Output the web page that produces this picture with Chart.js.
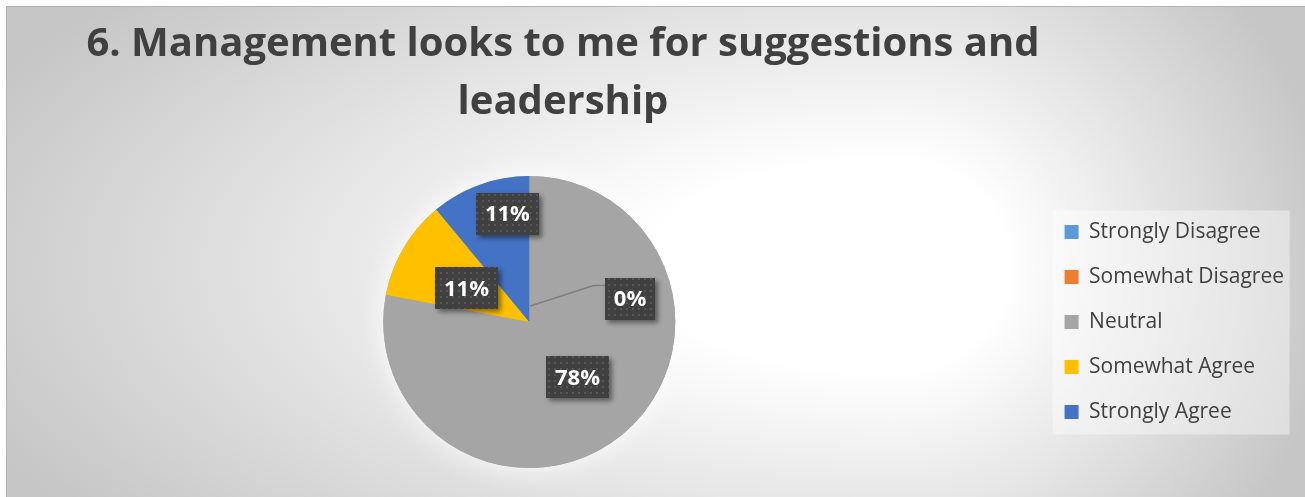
<!DOCTYPE html>
<html>
<head>
<meta charset="utf-8">
<script src="https://cdn.jsdelivr.net/npm/chart.js@4"></script>
<style>
  html, body { margin: 0; padding: 0; background: #fff; }
  #wrap { position: absolute; left: 6px; top: 6px; width: 1299px; height: 491px; }
</style>
</head>
<body>
<div id="wrap"><canvas id="pieChart"></canvas></div>
<script>
const categories = ['Strongly Disagree', 'Somewhat Disagree', 'Neutral', 'Somewhat Agree', 'Strongly Agree'];
const responses = [0, 0, 78, 11, 11];
const percentLabels = ['0%', '0%', '78%', '11%', '11%'];
const sliceColors = ['#5b9bd5', '#ed7d31', '#a5a5a5', '#ffc000', '#4472c4'];
const chartTitle = ['6. Management looks to me for suggestions and', 'leadership'];

// gray backdrop with a soft white spot right of the pie
const backdrop = {
    id: 'backdrop',
    beforeDraw(chart) {
        const { ctx, width, height } = chart;
        const cx = 890, cy = 260;
        const halves = [[0, cx, 1000], [cx, width, 440]];
        halves.forEach(([x0, x1, rx]) => {
            ctx.save();
            ctx.beginPath();
            ctx.rect(x0, 0, x1 - x0, height);
            ctx.clip();
            ctx.translate(cx, cy);
            ctx.scale(rx / 420, 1);
            const g = ctx.createRadialGradient(0, 0, 0, 0, 0, 420);
            g.addColorStop(0, '#ffffff');
            g.addColorStop(0.25, '#ffffff');
            g.addColorStop(1, '#c6c6c6');
            ctx.fillStyle = g;
            ctx.fillRect(-5000, -5000, 10000, 10000);
            ctx.restore();
        });
        ctx.save();
        ctx.strokeStyle = '#b4b4b4';
        ctx.lineWidth = 1;
        ctx.beginPath();
        ctx.moveTo(0.5, height);
        ctx.lineTo(0.5, 0.5);
        ctx.lineTo(width, 0.5);
        ctx.stroke();

        // title
        ctx.fillStyle = '#404040';
        ctx.font = 'bold 40px "Open Sans"';
        ctx.textAlign = 'center';
        ctx.textBaseline = 'alphabetic';
        ctx.fillText(chartTitle[0], 557, 50);
        ctx.fillText(chartTitle[1], 557, 108);

        // legend panel
        const boxes = chart.legend.legendHitBoxes;
        if (boxes && boxes.length) {
            const top = boxes[0].top - 11;
            const bottom = boxes[boxes.length - 1].top + boxes[boxes.length - 1].height + 12;
            ctx.fillStyle = 'rgba(255,255,255,0.4)';
            ctx.fillRect(boxes[0].left - 12, top, 237, bottom - top);
        }
        ctx.restore();
    }
};

// white glow behind the pie
const pieGlow = {
    id: 'pieGlow',
    beforeDatasetsDraw(chart) {
        const arc = chart.getDatasetMeta(0).data[0];
        const ctx = chart.ctx;
        ctx.save();
        ctx.shadowColor = 'rgba(255,255,255,0.9)';
        ctx.shadowBlur = 28;
        ctx.fillStyle = '#a5a5a5';
        ctx.beginPath();
        ctx.arc(arc.x, arc.y, arc.outerRadius, 0, Math.PI * 2);
        ctx.fill();
        ctx.restore();
    }
};

let dotPattern = null;
function getDots(ctx) {
    if (dotPattern) return dotPattern;
    const c = document.createElement('canvas');
    c.width = 6; c.height = 6;
    const p = c.getContext('2d');
    p.fillStyle = '#404040';
    p.fillRect(0, 0, 6, 6);
    p.fillStyle = '#575757';
    p.fillRect(2, 2, 2, 2);
    dotPattern = ctx.createPattern(c, 'repeat');
    return dotPattern;
}

// dark percentage callouts
const sliceTags = {
    id: 'sliceTags',
    afterDatasetsDraw(chart, args, opts) {
        const ctx = chart.ctx;
        const arc = chart.getDatasetMeta(0).data[0];
        const cx = arc.x, cy = arc.y, r = arc.outerRadius;

        ctx.save();
        ctx.strokeStyle = '#7f7f7f';
        ctx.lineWidth = 1.5;
        ctx.beginPath();
        opts.leader.forEach(([dx, dy], k) => {
            const px = cx + dx * r, py = cy + dy * r;
            if (k === 0) ctx.moveTo(px, py); else ctx.lineTo(px, py);
        });
        ctx.stroke();

        ctx.font = 'bold 22px "Open Sans"';
        ctx.textAlign = 'center';
        ctx.textBaseline = 'middle';
        opts.spots.forEach((spot, i) => {
            if (!spot) return;
            const x = cx + spot[0] * r, y = cy + spot[1] * r;
            const text = percentLabels[i];
            const w = ctx.measureText(text).width + 18, h = 42;
            ctx.save();
            ctx.shadowColor = 'rgba(0,0,0,0.45)';
            ctx.shadowBlur = 5;
            ctx.shadowOffsetX = 3;
            ctx.shadowOffsetY = 3;
            ctx.fillStyle = getDots(ctx);
            ctx.fillRect(Math.round(x - w / 2), Math.round(y - h / 2), Math.round(w), h);
            ctx.restore();
            ctx.fillStyle = '#ffffff';
            ctx.fillText(text, x, y + 1);
        });
        ctx.restore();
    }
};

const ctx = document.getElementById('pieChart').getContext('2d');
new Chart(ctx, {
    type: 'pie',
    data: {
        labels: categories,
        datasets: [{
            data: responses,
            backgroundColor: sliceColors,
            borderWidth: 0,
        }],
    },
    options: {
        responsive: true,
        maintainAspectRatio: false,
        animation: false,
        layout: { padding: { top: 170, bottom: 29, left: 12, right: 11 } },
        plugins: {
            title: { display: false },
            tooltip: { enabled: false },
            legend: {
                position: 'right',
                labels: {
                    font: { family: 'Open Sans', size: 21 },
                    color: '#404040',
                    boxWidth: 14,
                    boxHeight: 14,
                    padding: 24,
                },
            },
            sliceTags: {
                spots: [[0.69, -0.16], null, [0.33, 0.38], [-0.43, -0.23], [-0.15, -0.74]],
                leader: [[0.007, -0.11], [0.44, -0.25], [0.52, -0.25]],
            },
        },
    },
    plugins: [backdrop, pieGlow, sliceTags],
});
</script>
</body>
</html>
